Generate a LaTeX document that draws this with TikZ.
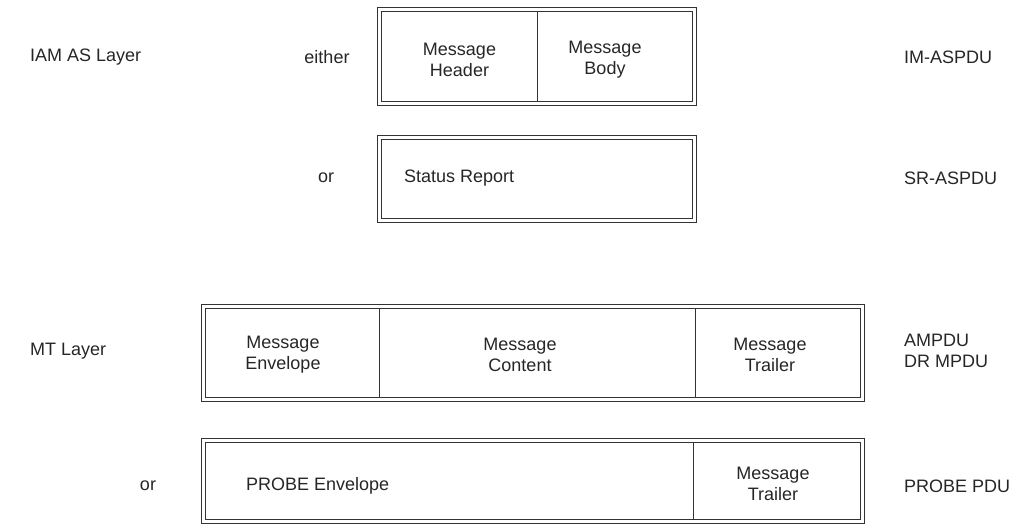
\documentclass[tikz,border=0pt]{standalone}
\usepackage{fontspec}
\setmainfont{Liberation Sans}
\begin{document}
\begin{tikzpicture}[x=1pt,y=-1pt,
  every node/.style={font=\fontsize{18}{21}\selectfont, text=black!85, inner sep=0pt},
  rim/.style={draw=black!80, line width=0.8pt},
  sep/.style={draw=black!80, line width=0.9pt},
  lbl/.style={anchor=west},
  cell/.style={align=center}]
\useasboundingbox (0,0) rectangle (1026,525);

% a double-ruled frame: outer rule, inner rule 4pt inside it
\newcommand{\dframe}[5]{%
  \coordinate (#1-nw) at (#2,#3);
  \coordinate (#1-se) at (#4,#5);
  \draw[rim] (#1-nw) rectangle (#1-se);
  \draw[rim] ([shift={(4,4)}]#1-nw) coordinate (#1-inw) rectangle ([shift={(-4,-4)}]#1-se) coordinate (#1-ise);
}
% a divider between the inner rules at x
\newcommand{\dsplit}[2]{%
  \draw[sep] (#1-inw -| #2,0) -- (#1-ise -| #2,0);
}

% upper layer: IM-ASPDU and SR-ASPDU
\dframe{im}{377}{7.5}{696}{105}
\dsplit{im}{537}
\dframe{sr}{377}{135}{696}{222}

\node[cell] (hdr) at (459.5,60) {Message\\Header};
\node[cell] (body) at (605,60) {Message\\Body};
\node[lbl] (status) at (404,178) {Status Report};

\node[lbl] (iam) at (30,57) {IAM AS Layer};
\node (either) at (327,57) {either};
\node (or1) at (326,178) {or};
\node[lbl] (imp) at (904,57) {IM-ASPDU};
\node[lbl] (srp) at (904,178) {SR-ASPDU};

% lower layer: MPDU and probe
\dframe{mp}{201}{304}{864}{401}
\dsplit{mp}{379}
\dsplit{mp}{695}
\dframe{pr}{201}{438}{864}{523}
\dsplit{pr}{693}

\node[cell] (env) at (283,355) {Message\\Envelope};
\node[cell] (cont) at (520,355) {Message\\Content};
\node[cell] (trl) at (770,355) {Message\\Trailer};
\node[lbl] (penv) at (246,486) {PROBE Envelope};
\node[cell] (ptrl) at (773,484) {Message\\Trailer};

\node[lbl] (mt) at (30,351) {MT Layer};
\node (or2) at (148,486) {or};
\node[lbl, align=left] (amp) at (904,351) {AMPDU\\DR MPDU};
\node[lbl] (ppdu) at (904,486) {PROBE PDU};
\end{tikzpicture}
\end{document}
